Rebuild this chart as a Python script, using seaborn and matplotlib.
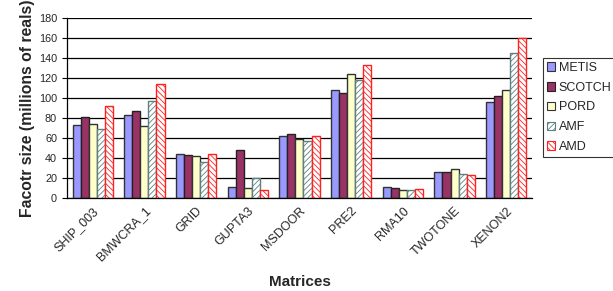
import numpy as np
import pandas as pd
import matplotlib
matplotlib.use("Agg")
import matplotlib.pyplot as plt
from matplotlib.patches import Patch
import seaborn as sns

# values (millions of reals)
matrices = ["SHIP_003", "BMWCRA_1", "GRID", "GUPTA3", "MSDOOR",
            "PRE2", "RMA10", "TWOTONE", "XENON2"]
orderings = ["METIS", "SCOTCH", "PORD", "AMF", "AMD"]
metis = [73, 82.6, 44, 10.6, 62, 108, 10.6, 26, 95.6]
scotch = [80.6, 87, 42.6, 48, 64, 105.3, 10, 26, 102]
pord = [73.6, 72, 42, 10, 58.6, 124, 8.3, 29, 108]
amf = [69, 97, 35.6, 20, 57.3, 118.3, 8.3, 24.3, 145.3]
amd = [91.6, 114, 44, 8, 62, 133.3, 9.3, 23, 160]

df = pd.DataFrame({"METIS": metis, "SCOTCH": scotch, "PORD": pord,
                   "AMF": amf, "AMD": amd}, index=matrices)
df = df.reset_index().rename(columns={"index": "matrix"})
long = df.melt(id_vars="matrix", var_name="ordering", value_name="size")

face = {"METIS": "#9999FF", "SCOTCH": "#993366", "PORD": "#FFFFCC",
        "AMF": "#FFFFFF", "AMD": "#FFFFFF"}
edge = {"METIS": "#333333", "SCOTCH": "#222222", "PORD": "#333333",
        "AMF": "#5F8080", "AMD": "#FF2020"}
hatch = {"METIS": None, "SCOTCH": None, "PORD": None,
         "AMF": "//////", "AMD": "\\\\\\\\\\\\"}

sns.set_style("white")
plt.rcParams["font.family"] = ["Liberation Sans", "DejaVu Sans"]
plt.rcParams["hatch.linewidth"] = 0.6

fig = plt.figure(figsize=(6.13, 2.91), dpi=100)
ax = fig.add_axes([0.109, 0.3196, 0.759, 0.6186])

sns.barplot(data=long, x="matrix", y="size", hue="ordering",
            hue_order=orderings, palette=face, width=0.78, gap=0,
            saturation=1, legend=False, ax=ax)

n = len(matrices)
for k, name in enumerate(orderings):
    for p in ax.patches[k * n:(k + 1) * n]:
        p.set_edgecolor(edge[name])
        p.set_linewidth(1.0)
        if hatch[name]:
            p.set_hatch(hatch[name])

ax.set_ylim(0, 180)
ax.set_yticks(np.arange(0, 181, 20))
ax.set_xlim(-0.5, n - 0.5)
ax.yaxis.grid(True, color="black", linewidth=0.9)
ax.set_axisbelow(True)
for s in ["top", "right"]:
    ax.spines[s].set_visible(False)
for s in ["left", "bottom"]:
    ax.spines[s].set_color("black")
    ax.spines[s].set_linewidth(0.9)

ax.set_xticks(np.arange(n))
ax.set_xticklabels(matrices, rotation=45, ha="right", rotation_mode="anchor",
                   fontsize=9)
ax.set_xticks(np.arange(n + 1) - 0.5, minor=True)
ax.tick_params(axis="x", which="major", length=0, pad=5)
ax.tick_params(axis="x", which="minor", length=3.5, direction="out",
               color="black", width=0.8)
ax.tick_params(axis="y", length=3.5, direction="out", color="black",
               width=0.8, labelsize=7.8, left=True)

ax.set_xlabel("Matrices", fontsize=11, fontweight="bold", labelpad=8)
ax.set_ylabel("Facotr size (millions of reals)", fontsize=11.3,
              fontweight="bold", labelpad=3)

handles = [Patch(facecolor=face[o], edgecolor=edge[o], hatch=hatch[o],
                 linewidth=0.8, label=o) for o in orderings]
leg = fig.legend(handles=handles, loc="upper left",
                 bbox_to_anchor=(0.885, 0.802), fontsize=9,
                 frameon=True, fancybox=False, edgecolor="black",
                 handlelength=0.65, handleheight=0.65, handletextpad=0.3,
                 labelspacing=0.62, borderpad=0.35, borderaxespad=0)
leg.get_frame().set_linewidth(0.8)

fig.savefig("out.png", dpi=100)
